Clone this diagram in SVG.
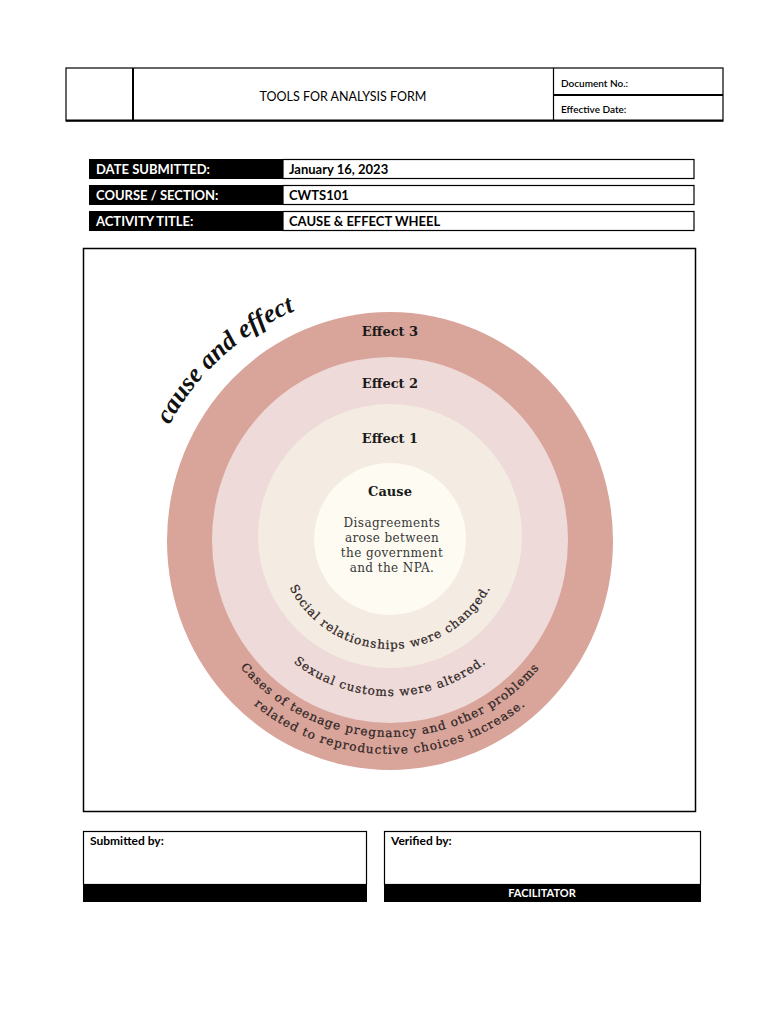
<svg xmlns="http://www.w3.org/2000/svg" width="768" height="1024" viewBox="0 0 768 1024">
<defs>
<style>
.f{font-family:Lato,"Liberation Sans",sans-serif}
.lab{font-family:Lato,"Liberation Sans",sans-serif;font-weight:bold;font-size:13px;fill:#fff}
.val{font-family:Lato,"Liberation Sans",sans-serif;font-weight:bold;font-size:13px;fill:#000}
.eff{font-family:"DejaVu Serif",serif;font-weight:bold;font-size:13px;fill:#1a1a1a;text-anchor:middle}
.ct{font-family:"DejaVu Serif",serif;font-size:12px;fill:#383838;text-anchor:middle;letter-spacing:0.4px}
.arc{font-family:"DejaVu Serif",serif;font-size:12px;fill:#2e2626;stroke:#2e2626;stroke-width:0.25px}
.ln{stroke:#000;fill:none}
</style>
<path id="p1" d="M 277 536 A 113 113 0 0 0 503 536"/>
<path id="p2" d="M 234 540 A 156 156 0 0 0 546 540"/>
<path id="p3" d="M 194 541 A 196 196 0 0 0 586 541"/>
<path id="p4" d="M 177 541 A 213 213 0 0 0 603 541"/>
<path id="p5" d="M 141 541 A 249 249 0 0 1 413 293"/>
</defs>
<rect width="768" height="1024" fill="#fff"/>

<g id="header">
<rect x="66" y="68" width="657" height="53" class="ln" stroke-width="1.2"/>
<line x1="66" y1="120.5" x2="723" y2="120.5" class="ln" stroke-width="2"/>
<line x1="133" y1="68" x2="133" y2="121" class="ln" stroke-width="2"/>
<line x1="553.5" y1="68" x2="553.5" y2="121" class="ln" stroke-width="1.2"/>
<line x1="553" y1="95" x2="723" y2="95" class="ln" stroke-width="2"/>
<text x="343" y="101" class="f" font-size="12.5" text-anchor="middle">TOOLS FOR ANALYSIS FORM</text>
<text x="561" y="87" class="f" font-size="10" font-weight="600">Document No.:</text>
<text x="561" y="113" class="f" font-size="10" font-weight="600">Effective Date:</text>
</g>

<g id="row-date">
<rect x="89" y="159" width="194" height="20" fill="#000"/>
<rect x="283" y="159.5" width="411" height="19" class="ln" stroke-width="1.2"/>
<text x="96" y="174" class="lab">DATE SUBMITTED:</text>
<text x="289" y="174" class="val">January 16, 2023</text>
</g>
<g id="row-course">
<rect x="89" y="185" width="194" height="20" fill="#000"/>
<rect x="283" y="185.5" width="411" height="19" class="ln" stroke-width="1.2"/>
<text x="96" y="200" class="lab">COURSE / SECTION:</text>
<text x="289" y="200" class="val">CWTS101</text>
</g>
<g id="row-activity">
<rect x="89" y="211" width="194" height="20" fill="#000"/>
<rect x="283" y="211.5" width="411" height="19" class="ln" stroke-width="1.2"/>
<text x="96" y="226" class="lab">ACTIVITY TITLE:</text>
<text x="289" y="226" class="val">CAUSE &amp; EFFECT WHEEL</text>
</g>

<g id="frame">
<rect x="83.5" y="248.5" width="612" height="563" class="ln" stroke-width="1.5"/>
</g>

<g id="wheel">
<ellipse id="effect3" cx="390" cy="541" rx="223" ry="229" fill="#D9A49A"/>
<ellipse id="effect2" cx="390" cy="540" rx="178" ry="183" fill="#EEDAD8"/>
<circle id="effect1" cx="390" cy="536" r="132" fill="#F4EBE2"/>
<circle id="cause" cx="390" cy="539" r="76" fill="#FDFBF2"/>
<text x="390" y="336" class="eff">Effect 3</text>
<text x="390" y="388" class="eff">Effect 2</text>
<text x="390" y="443" class="eff">Effect 1</text>
<text x="390" y="496" class="eff">Cause</text>
<text x="392" y="527" class="ct">Disagreements</text>
<text x="392" y="542" class="ct">arose between</text>
<text x="392" y="557" class="ct">the government</text>
<text x="392" y="572" class="ct">and the NPA.</text>
<text class="arc" letter-spacing="1"><textPath href="#p1" startOffset="50%" text-anchor="middle">Social relationships were changed.</textPath></text>
<text class="arc" letter-spacing="1"><textPath href="#p2" startOffset="50%" text-anchor="middle">Sexual customs were altered.</textPath></text>
<text class="arc" letter-spacing="1"><textPath href="#p3" startOffset="50%" text-anchor="middle">Cases of teenage pregnancy and other problems</textPath></text>
<text class="arc" letter-spacing="1.1"><textPath href="#p4" startOffset="50%" text-anchor="middle">related to reproductive choices increase.</textPath></text>
<text font-family="'Liberation Serif',serif" font-style="italic" font-weight="bold" font-size="26" fill="#111"><textPath href="#p5" startOffset="50%" text-anchor="middle">cause and effect</textPath></text>
</g>

<g id="submitted">
<rect x="83.5" y="831.5" width="283" height="53" class="ln" stroke-width="1.2"/>
<rect x="83" y="884" width="284" height="18" fill="#000"/>
<text x="90" y="845" class="f" font-size="12" font-weight="bold">Submitted by:</text>
</g>
<g id="verified">
<rect x="384.5" y="831.5" width="316" height="53" class="ln" stroke-width="1.2"/>
<rect x="384" y="884" width="317" height="18" fill="#000"/>
<text x="391" y="845" class="f" font-size="12" font-weight="bold">Verified by:</text>
<text x="542" y="897" class="f" font-size="11" font-weight="bold" fill="#fff" text-anchor="middle">FACILITATOR</text>
</g>
</svg>
